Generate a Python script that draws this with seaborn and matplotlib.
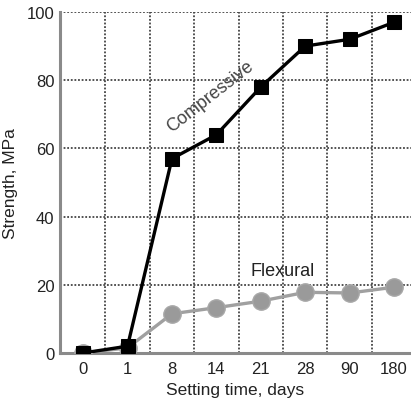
import matplotlib
matplotlib.use("Agg")
import matplotlib.pyplot as plt
import seaborn as sns
import pandas as pd
import numpy as np

days = ["0", "1", "8", "14", "21", "28", "90", "180"]
compressive = [0, 2, 57, 64, 78, 90, 92, 97]
flexural = [0, 1.5, 11.5, 13.3, 15.2, 17.8, 17.6, 19.3]
yticks = [0, 20, 40, 60, 80, 100]

sns.set_theme(style="white")
plt.rcParams['font.family'] = ['Liberation Sans', 'DejaVu Sans']

pos = np.arange(len(days))
df_c = pd.DataFrame({"pos": pos, "val": compressive})
df_f = pd.DataFrame({"pos": pos, "val": flexural})

fig = plt.figure(figsize=(4.11, 4.10), dpi=100)
ax = fig.add_axes([0.146, 0.1366, 0.854, 0.8317])

sns.lineplot(data=df_f, x="pos", y="val", ax=ax, color="#a0a0a0", linewidth=2.4,
             marker="o", markersize=12.5, markerfacecolor="#9a9a9a",
             markeredgecolor="#a8a8a8", markeredgewidth=1, zorder=3)
sns.lineplot(data=df_c, x="pos", y="val", ax=ax, color="black", linewidth=2.4,
             marker="s", markersize=10, markerfacecolor="black",
             markeredgecolor="black", zorder=4)

ax.set_xlim(-0.52, 7.38)
ax.set_ylim(0, 100)
ax.set_xticks(pos)
ax.set_xticklabels(days)
ax.set_xticks(pos[:-1] + 0.5, minor=True)
ax.set_yticks(yticks)
ax.grid(False)
ax.grid(True, axis="x", which="minor", linestyle=(0, (1, 1)), color="#444444", linewidth=1.3)
ax.grid(True, axis="y", which="major", linestyle=(0, (1, 1)), color="#444444", linewidth=1.3)
ax.tick_params(axis="both", which="both", length=0, labelsize=12, labelcolor="#222222")
ax.tick_params(axis="x", pad=6)
ax.tick_params(axis="y", pad=4)

for s in ["top", "right"]:
    ax.spines[s].set_visible(False)
ax.spines["left"].set_color("#8a8a8a")
ax.spines["left"].set_linewidth(2.2)
ax.spines["bottom"].set_color("#8a8a8a")
ax.spines["bottom"].set_linewidth(2.2)

ax.set_xlabel("Setting time, days", fontsize=12.5, color="#222222", labelpad=4)
ax.set_ylabel("Strength, MPa", fontsize=12.5, color="#222222", labelpad=6)

ax.text(2.87, 75.4, "Compressive", rotation=38, fontsize=13, color="#444444",
        ha="center", va="center", rotation_mode="anchor")
ax.text(4.49, 24.3, "Flexural", fontsize=13, color="#222222", ha="center", va="center")

fig.savefig("out.png", dpi=100)
